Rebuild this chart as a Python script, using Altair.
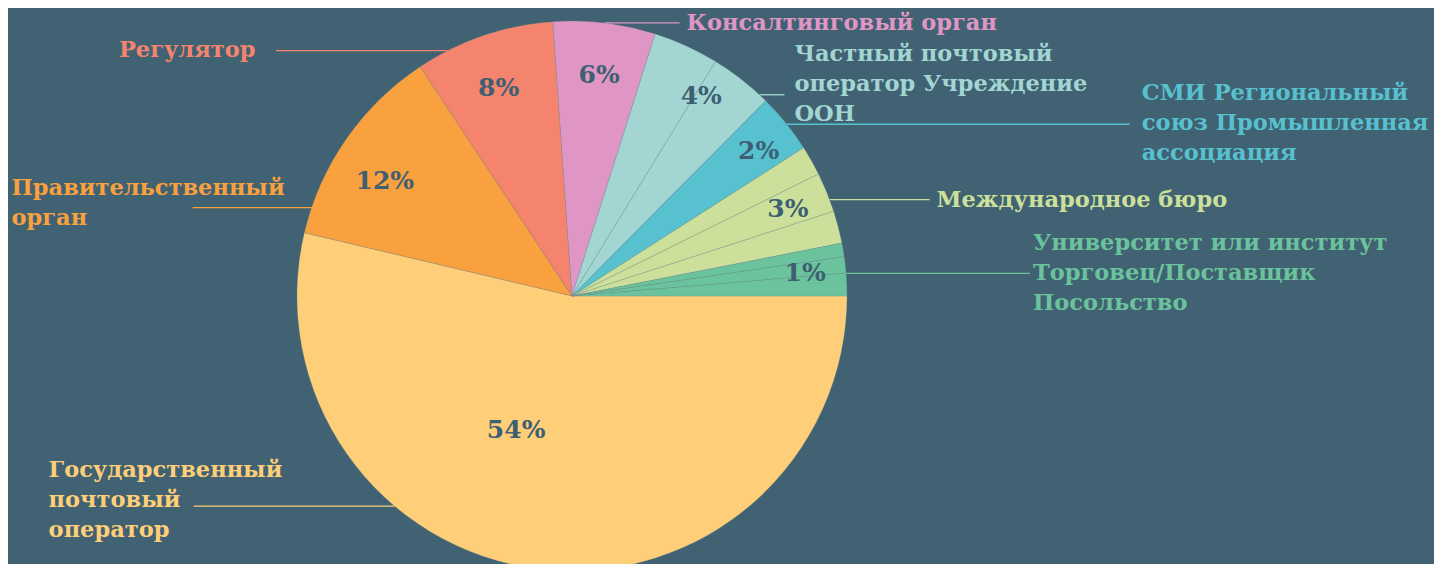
import math
import altair as alt
import pandas as pd

# ---------------- data ----------------
GROUP_NAMES = [
    "Государственный почтовый оператор",
    "Правительственный орган",
    "Регулятор",
    "Консалтинговый орган",
    "Частный почтовый оператор Учреждение ООН",
    "СМИ Региональный союз Промышленная ассоциация",
    "Международное бюро",
    "Университет или институт Торговец/Поставщик Посольство",
]
LABEL_LINES = [
    ["Государственный", "почтовый", "оператор"],
    ["Правительственный", "орган"],
    ["Регулятор"],
    ["Консалтинговый орган"],
    ["Частный почтовый", "оператор Учреждение", "ООН"],
    ["СМИ Региональный", "союз Промышленная", "ассоциация"],
    ["Международное бюро"],
    ["Университет или институт", "Торговец/Поставщик", "Посольство"],
]
# sub-slice shares (percent), clockwise from 3 o'clock
SUB_VALUES = [
    [53.7],
    [12.0],
    [8.2],
    [6.0],
    [3.85, 3.7],
    [3.5],
    [1.75, 2.33, 1.9],
    [0.8, 0.95, 1.33],
]
PCT_LABELS = ["54%", "12%", "8%", "6%", "4%", "2%", "3%", "1%"]
COLORS = ["#FFCE78", "#F9A03F", "#F5846F", "#E096C5",
          "#A3D6D2", "#58C1D0", "#CCE09B", "#6BC39D"]

# ---------------- layout ----------------
W, H = 1426, 556            # page is 1442x572 with an 8px margin
BG = "#406272"
CX, CY, R = 564, 288, 275
LABEL_DY = [-63, 69, 15, 0, 34, 1, 6, 4]          # leader shift from slice middle
LEADER_LEN = [201, 119, 172, 75, 25, 343, 100, 184]
TEXT_SHIFT = [-145, -181, -157, 7, 10, 12, 7, 3]   # text block left edge vs leader end
TEXT_DY = [-6, -5, -1, 0, -11, -1, 0, 0]          # text block centre vs leader
PCT_DX = [-39, 0, 0, 0, 11, 9, 4, 6]              # nudges of the in-slice labels
PCT_DY = [-11, 16, 8, 6, -5, -2, -2, -1]
LINE_H = 30
FONT = "DejaVu Serif"

total = sum(sum(v) for v in SUB_VALUES)


def pos(p, r):
    th = math.pi / 2 + 2 * math.pi * p / total
    return CX + r * math.sin(th), CY - r * math.cos(th)


arc_rows, grp_rows = [], []
cum = 0.0
for g, vals in enumerate(SUB_VALUES):
    g0 = cum
    for v in vals:
        arc_rows.append({"group": GROUP_NAMES[g], "t0": cum, "t1": cum + v,
                         "color": COLORS[g]})
        cum += v
    mid = (g0 + cum) / 2
    share = (cum - g0) / total
    # percentage label inside the slice
    rl = 0.53 * R if share > 0.25 else 0.83 * R
    px, py = pos(mid, rl)
    # leader line and outer label
    mx, my = pos(mid, R)
    ly = my + LABEL_DY[g]
    side = 1 if mx >= CX else -1
    xs = CX + side * math.sqrt(max(R * R - (ly - CY) ** 2, 0))
    xe = xs + side * LEADER_LEN[g]
    n = len(LABEL_LINES[g])
    grp_rows.append({
        "group": GROUP_NAMES[g], "color": COLORS[g], "pct": PCT_LABELS[g],
        "px": px + PCT_DX[g], "py": py + PCT_DY[g],
        "xs": xs, "xe": xe, "ly": ly,
        "tx": xe + TEXT_SHIFT[g],
        "ty": ly + TEXT_DY[g] - (n - 1) * LINE_H / 2,
        "label": "\n".join(LABEL_LINES[g]),
    })

arcs = pd.DataFrame(arc_rows)
grp = pd.DataFrame(grp_rows)

xs_ = alt.Scale(domain=[0, W], range=[0, W], nice=False, zero=False)
ys_ = alt.Scale(domain=[0, H], range=[0, H], nice=False, zero=False)

pie = alt.Chart(arcs).mark_arc(
    radius=R, stroke="#6f8a90", strokeWidth=0.5, strokeOpacity=0.5
).encode(
    theta=alt.Theta("t0:Q", scale=alt.Scale(domain=[0, total],
                                             range=[math.pi / 2, 5 * math.pi / 2]),
                    stack=None),
    theta2="t1:Q",
    color=alt.Color("color:N", scale=None),
    x=alt.value(CX),
    y=alt.value(CY),
)

leaders = alt.Chart(grp).mark_rule(strokeWidth=1.3).encode(
    x=alt.X("xs:Q", scale=xs_, axis=None),
    x2="xe:Q",
    y=alt.Y("ly:Q", scale=ys_, axis=None),
    color=alt.Color("color:N", scale=None),
)

pct = alt.Chart(grp).mark_text(
    font=FONT, fontWeight="bold", fontSize=25, color="#3d5f72",
    align="center", baseline="middle"
).encode(
    x=alt.X("px:Q", scale=xs_, axis=None),
    y=alt.Y("py:Q", scale=ys_, axis=None),
    text="pct:N",
)

labels = alt.Chart(grp).mark_text(
    font=FONT, fontWeight="bold", fontSize=22.5, align="left",
    baseline="middle", lineBreak="\n", lineHeight=LINE_H
).encode(
    x=alt.X("tx:Q", scale=xs_, axis=None),
    y=alt.Y("ty:Q", scale=ys_, axis=None),
    text="label:N",
    color=alt.Color("color:N", scale=None),
)

chart = alt.layer(pie, leaders, pct, labels).properties(
    width=W, height=H,
    autosize=alt.AutoSizeParams(type="none"),
    padding=0,
    background=BG,
).configure_view(stroke=None)

chart.save("out.html", embed_options={"renderer": "svg", "actions": False})
